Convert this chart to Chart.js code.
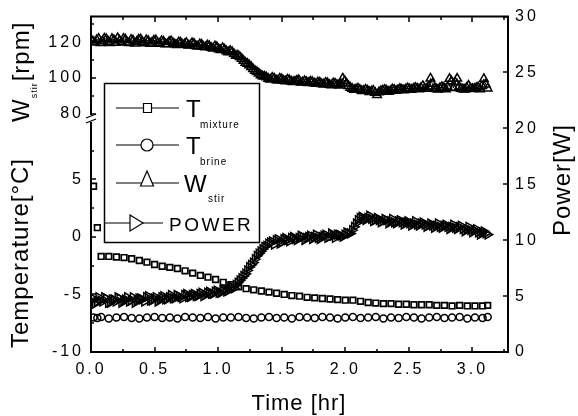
<!DOCTYPE html>
<html><head><meta charset="utf-8">
<script src="https://cdn.jsdelivr.net/npm/chart.js@4.4.0/dist/chart.umd.min.js"></script>
<style>html,body{margin:0;padding:0;background:#fff;}#wrap{width:578px;height:416px;}</style>
</head><body><div id="wrap"><canvas id="c" width="578" height="416"></canvas></div>
<script>
// ---- tick labels ----
const timeTicks = [0.0, 0.5, 1.0, 1.5, 2.0, 2.5, 3.0];
const timeMinor = [0.25, 0.75, 1.25, 1.75, 2.25, 2.75, 3.25];
const tempTicks = [-10, -5, 0, 5];
const tempMinor = [-7.5, -2.5, 2.5, 7.5];
const rpmTicks = [80, 100, 120];
const rpmMinor = [90, 110, 130];
const powerTicks = [0, 5, 10, 15, 20, 25, 30];

// ---- temperature series (hr, degC) ----
const tTemp = [0.02,0.05,0.08,0.14,0.20,0.26,0.32,0.38,0.44,0.50,
  0.56,0.62,0.68,0.74,0.80,0.86,0.92,0.98,1.04,1.10,
  1.16,1.22,1.28,1.34,1.40,1.46,1.52,1.58,1.64,1.70,
  1.76,1.82,1.88,1.94,2.00,2.06,2.12,2.18,2.24,2.30,
  2.36,2.42,2.48,2.54,2.60,2.66,2.72,2.78,2.84,2.90,
  2.96,3.02,3.08,3.12];
const tMixture = [4.4,0.8,-1.7,-1.7,-1.75,-1.8,-1.9,-2.05,-2.2,-2.4,
  -2.55,-2.65,-2.75,-2.95,-3.15,-3.35,-3.5,-3.7,-3.95,-4.15,
  -4.35,-4.5,-4.6,-4.7,-4.8,-4.9,-5.0,-5.1,-5.15,-5.25,
  -5.3,-5.35,-5.4,-5.45,-5.5,-5.5,-5.6,-5.7,-5.75,-5.8,
  -5.8,-5.85,-5.85,-5.9,-5.9,-5.9,-5.95,-5.95,-6.0,-5.95,
  -6.0,-6.0,-6.0,-5.95];
const tBrine = [-7.0,-7.05,-6.95,-7.1,-7.0,-6.95,-7.05,-7.1,-7.0,-6.95,
  -7.05,-7.0,-7.1,-6.95,-7.0,-7.05,-6.95,-7.1,-7.0,-7.0,
  -6.95,-7.05,-7.1,-7.0,-6.95,-7.05,-7.0,-7.1,-6.95,-7.0,
  -7.05,-6.95,-7.0,-7.1,-7.0,-6.95,-7.05,-7.0,-6.95,-7.1,
  -7.0,-7.05,-6.95,-7.0,-7.1,-7.0,-6.95,-7.05,-7.0,-6.95,
  -7.1,-7.0,-7.05,-6.95];

// ---- stirrer speed (rpm) and power (W), sampled on two interleaved time grids ----
const tFastA = [0.00,0.03,0.06,0.09,0.12,0.15,0.18,0.21,0.24,0.27,
  0.30,0.33,0.36,0.39,0.42,0.45,0.48,0.51,0.54,0.57,
  0.60,0.63,0.66,0.69,0.72,0.75,0.78,0.81,0.84,0.87,
  0.90,0.93,0.96,0.99,1.02,1.05,1.08,1.11,1.14,1.17,
  1.20,1.23,1.26,1.29,1.32,1.35,1.38,1.41,1.44,1.47,
  1.50,1.53,1.56,1.59,1.62,1.65,1.68,1.71,1.74,1.77,
  1.80,1.83,1.86,1.89,1.92,1.95,1.98,2.01,2.04,2.07,
  2.10,2.13,2.16,2.19,2.22,2.25,2.28,2.31,2.34,2.37,
  2.40,2.43,2.46,2.49,2.52,2.55,2.58,2.61,2.64,2.67,
  2.70,2.73,2.76,2.79,2.82,2.85,2.88,2.91,2.94,2.97,
  3.00,3.03,3.06,3.09,3.12];
const wStirA = [121.5,119.8,122.0,120.5,121.8,119.5,121.2,122.3,120.0,121.6,
  119.6,121.0,120.2,121.7,119.4,120.8,119.9,121.1,119.2,120.4,
  119.0,120.6,118.8,120.0,118.6,119.7,118.3,119.2,117.6,118.7,
  117.2,118.0,116.5,117.3,115.6,116.0,114.4,114.6,112.5,111.8,
  109.6,108.0,106.2,104.0,102.6,101.0,100.4,99.2,99.8,98.6,
  99.4,98.2,98.9,97.8,98.6,97.5,98.3,97.2,97.9,96.8,
  97.5,96.4,97.2,96.0,96.9,95.8,99.8,97.0,94.6,93.4,
  94.2,92.8,93.6,92.2,93.0,90.6,92.8,93.5,92.4,93.8,
  92.9,94.0,93.2,94.3,93.4,94.6,93.8,95.6,94.0,99.8,
  94.2,93.6,95.0,93.8,99.6,94.4,99.7,94.0,93.6,95.8,
  93.9,94.5,93.7,99.5,94.2];
const powerA = [4.6,4.3,4.9,4.5,4.8,4.4,4.7,4.9,4.4,4.7,
  4.5,4.9,4.6,4.8,4.5,5.0,4.6,4.9,4.7,5.0,
  4.7,5.1,4.8,5.0,4.8,5.2,4.9,5.2,5.0,5.3,
  5.1,5.4,5.2,5.5,5.3,5.6,5.5,5.8,6.0,6.4,
  6.8,7.3,7.8,8.3,8.8,9.2,9.5,9.8,9.6,10.1,
  9.8,10.2,9.9,10.3,10.0,10.4,10.0,10.3,10.1,10.5,
  10.1,10.4,10.2,10.6,10.2,10.5,10.3,10.7,10.6,11.2,
  11.8,12.1,11.8,12.2,11.7,12.0,11.6,11.9,11.5,11.9,
  11.5,11.8,11.4,11.7,11.3,11.7,11.3,11.6,11.2,11.5,
  11.1,11.5,11.1,11.4,11.0,11.4,11.0,11.3,10.8,11.2,
  10.7,11.0,10.5,10.8,10.5];
const tFastB = [0.015,0.045,0.075,0.105,0.135,0.165,0.195,0.225,0.255,0.285,
  0.315,0.345,0.375,0.405,0.435,0.465,0.495,0.525,0.555,0.585,
  0.615,0.645,0.675,0.705,0.735,0.765,0.795,0.825,0.855,0.885,
  0.915,0.945,0.975,1.005,1.035,1.065,1.095,1.125,1.155,1.185,
  1.215,1.245,1.275,1.305,1.335,1.365,1.395,1.425,1.455,1.485,
  1.515,1.545,1.575,1.605,1.635,1.665,1.695,1.725,1.755,1.785,
  1.815,1.845,1.875,1.905,1.935,1.965,1.995,2.025,2.055,2.085,
  2.115,2.145,2.175,2.205,2.235,2.265,2.295,2.325,2.355,2.385,
  2.415,2.445,2.475,2.505,2.535,2.565,2.595,2.625,2.655,2.685,
  2.715,2.745,2.775,2.805,2.835,2.865,2.895,2.925,2.955,2.985,
  3.015,3.045,3.075,3.105];
const wStirB = [120.4,121.3,119.6,122.1,120.3,121.9,119.7,120.9,122.0,119.9,
  121.4,119.3,121.5,120.1,121.2,119.2,120.9,119.6,120.7,118.9,
  120.2,119.5,118.4,119.8,118.9,118.2,119.5,117.9,118.9,117.4,
  118.3,116.9,117.8,116.1,116.8,115.0,115.2,113.4,112.6,110.8,
  108.6,107.2,105.0,103.4,101.6,100.9,99.6,100.2,98.9,99.7,
  98.5,99.2,98.1,98.0,98.9,97.6,97.8,98.1,97.1,97.6,
  96.7,97.4,96.3,97.1,96.2,96.8,98.4,95.6,94.0,93.8,
  93.4,92.9,93.1,92.5,91.8,92.1,93.1,93.0,92.7,93.4,
  93.3,93.6,93.7,93.9,94.0,94.2,94.5,94.1,95.2,96.8,
  93.9,94.4,94.6,95.0,98.2,97.6,95.2,93.8,94.6,94.2,
  94.0,94.8,95.6,96.4];
const powerB = [4.8,4.5,4.6,4.9,4.4,4.7,4.5,4.8,4.6,4.9,
  4.6,4.4,4.8,4.7,4.9,4.6,4.8,4.5,4.9,4.7,
  4.9,4.8,5.1,4.9,5.1,4.9,5.1,5.0,5.2,5.0,
  5.3,5.2,5.4,5.3,5.5,5.4,5.7,5.7,6.2,6.6,
  7.0,7.6,8.0,8.6,9.0,9.4,9.7,9.9,10.0,9.7,
  10.1,10.0,10.2,10.1,10.2,10.3,10.2,10.4,10.3,10.2,
  10.3,10.5,10.3,10.4,10.5,10.4,10.5,10.6,10.9,11.5,
  12.0,11.9,12.0,11.9,11.8,11.8,11.7,11.8,11.7,11.6,
  11.7,11.6,11.6,11.5,11.5,11.4,11.5,11.4,11.3,11.3,
  11.3,11.2,11.3,11.2,11.2,11.1,11.2,11.0,11.0,10.9,
  10.9,10.7,10.7,10.6];

function pts(xs, ys){ const n=Math.min(xs.length, ys.length); const o=[]; for(let i=0;i<n;i++) o.push({x:xs[i], y:ys[i]}); return o; }
function merged(xa, ya, xb, yb){ return pts(xa, ya).concat(pts(xb, yb)).sort((p, q) => p.x - q.x); }

const FONT = "'Liberation Sans', Arial, Helvetica, sans-serif";
Chart.defaults.font.family = FONT;
Chart.defaults.color = '#000';

function setTicks(arr){ return s => { s.ticks = arr.map(v => ({value: v})); }; }

function txt(c, s, x, y, size, sp, align, rot){
  c.save();
  c.font = size + 'px ' + FONT;
  c.letterSpacing = sp + 'px';
  c.textAlign = align; c.textBaseline = 'alphabetic';
  c.fillStyle = '#000';
  c.translate(x, y);
  if (rot) c.rotate(rot);
  c.fillText(s, 0, 0);
  c.restore();
}
function wid(c, s, size, sp){
  c.save(); c.font = size + 'px ' + FONT; c.letterSpacing = sp + 'px';
  const w = c.measureText(s).width; c.restore(); return w;
}

const decor = {
  id: 'decor',
  beforeLayout(chart){ chart.ctx.letterSpacing = '3px'; },
  beforeDraw(chart){
    const c = chart.ctx;
    c.letterSpacing = '3px';
    c.save(); c.fillStyle = '#fff'; c.fillRect(0, 0, chart.width, chart.height); c.restore();
  },
  afterDatasetsDraw(chart){
    const c = chart.ctx;
    const a = chart.chartArea;
    const sx = chart.scales.x, sT = chart.scales.yT, sR = chart.scales.yR, sP = chart.scales.yP;
    c.save();
    c.strokeStyle = '#000'; c.lineWidth = 2; c.lineCap = 'butt';
    // frame
    c.beginPath();
    c.moveTo(a.left, a.top); c.lineTo(a.right, a.top); c.lineTo(a.right, a.bottom); c.lineTo(a.left, a.bottom); c.closePath();
    c.stroke();
    // ticks
    const L = Math.round(a.left), R = Math.round(a.right), T = Math.round(a.top), B = Math.round(a.bottom);
    function seg(x1,y1,x2,y2){ c.beginPath(); c.moveTo(x1,y1); c.lineTo(x2,y2); c.stroke(); }
    c.lineWidth = 1.5;
    timeTicks.forEach(v => { const p = Math.round(sx.getPixelForValue(v)); seg(p, B, p, B-5); seg(p, T, p, T+5); });
    timeMinor.forEach(v => { const p = Math.round(sx.getPixelForValue(v)); seg(p, B, p, B-3); seg(p, T, p, T+3); });
    tempTicks.forEach(v => { const p = Math.round(sT.getPixelForValue(v)); seg(L, p, L+5, p); });
    tempMinor.forEach(v => { const p = Math.round(sT.getPixelForValue(v)); seg(L, p, L+3, p); });
    rpmTicks.forEach(v => { const p = Math.round(sR.getPixelForValue(v)); seg(L, p, L+5, p); });
    rpmMinor.forEach(v => { const p = Math.round(sR.getPixelForValue(v)); seg(L, p, L+3, p); });
    powerTicks.forEach(v => { const p = Math.round(sP.getPixelForValue(v)); seg(R, p, R-5, p); });
    // axis break on the left axis
    const yb = Math.round(sT.top);
    c.fillStyle = '#fff'; c.fillRect(L-6, yb-4, 12, 7);
    c.lineWidth = 1.3;
    seg(L-5, yb-1, L+5, yb-5);
    seg(L-5, yb+4, L+5, yb);
    // legend
    c.lineWidth = 1.5;
    c.strokeRect(104.5, 83.5, 155, 159);
    c.lineWidth = 1.2;
    seg(116, 108, 179, 108); seg(116, 145, 179, 145); seg(116, 183, 179, 183); seg(104, 223, 163, 223);
    c.fillStyle = '#fff';
    c.beginPath(); c.rect(143.5, 103.5, 8, 9); c.fill(); c.stroke();
    c.beginPath(); c.arc(147, 145, 6, 0, Math.PI*2); c.fill(); c.stroke();
    c.beginPath(); c.moveTo(147, 171); c.lineTo(153.5, 186); c.lineTo(140.5, 186); c.closePath(); c.fill(); c.stroke();
    c.beginPath(); c.moveTo(130, 215); c.lineTo(143, 223); c.lineTo(130, 231); c.closePath(); c.fill(); c.stroke();
    c.restore();
    // legend texts
    txt(c, 'T', 186, 117, 24, 0, 'left');
    txt(c, 'mixture', 200, 128, 10, 1, 'left');
    txt(c, 'T', 186, 154, 24, 0, 'left');
    txt(c, 'brine', 200, 165, 10, 1, 'left');
    txt(c, 'W', 184, 192, 24, 0, 'left');
    txt(c, 'stir', 208, 202, 10, 1, 'left');
    txt(c, 'POWER', 169, 231, 19, 2.5, 'left');
    // axis titles
    txt(c, 'Time [hr]', 299, 410, 22, 1, 'center');
    txt(c, 'Temperature[°C]', 28, 253, 24, 1, 'center', -Math.PI/2);
    txt(c, 'Power[W]', 570, 180, 24, 1, 'center', -Math.PI/2);
    // W_stir[rpm]
    const wW = wid(c, 'W', 24, 0);
    const wS = wid(c, 'stir', 9, 1);
    txt(c, 'W', 29, 122, 24, 0, 'left', -Math.PI/2);
    txt(c, 'stir', 37, 122 - wW - 1, 9, 1, 'left', -Math.PI/2);
    txt(c, '[rpm]', 29, 122 - wW - wS - 2, 24, 1, 'left', -Math.PI/2);
  }
};

const common = { borderColor: '#000', borderWidth: 1, pointBorderColor: '#000', pointBackgroundColor: 'rgba(255,255,255,0)', pointBorderWidth: 1.5, fill: false, tension: 0 };

new Chart(document.getElementById('c'), {
  type: 'scatter',
  data: {
    datasets: [
      Object.assign({ label: 'T mixture', data: pts(tTemp, tMixture), yAxisID: 'yT', pointStyle: 'rect', pointRadius: 4, showLine: false }, common, { pointBorderWidth: 1.7 }),
      Object.assign({ label: 'T brine', data: pts(tTemp, tBrine), yAxisID: 'yT', pointStyle: 'circle', pointRadius: 3.5, showLine: false }, common),
      Object.assign({ label: 'W stir', data: merged(tFastA, wStirA, tFastB, wStirB), yAxisID: 'yR', pointStyle: 'triangle', pointRadius: 5, showLine: true }, common),
      Object.assign({ label: 'POWER', data: merged(tFastA, powerA, tFastB, powerB), yAxisID: 'yP', pointStyle: 'triangle', pointRotation: 90, pointRadius: 5, showLine: true }, common)
    ]
  },
  options: {
    responsive: false,
    animation: false,
    devicePixelRatio: 1,
    layout: { padding: { top: 16, left: 0, right: 0, bottom: 0 } },
    plugins: { legend: { display: false }, tooltip: { enabled: false } },
    scales: {
      x: {
        type: 'linear', position: 'bottom', min: 0, max: 3.28,
        afterBuildTicks: setTicks(timeTicks),
        ticks: { callback: v => Number(v).toFixed(1), padding: 8, font: { size: 16 }, color: '#000', maxRotation: 0, autoSkip: false },
        grid: { display: false, drawTicks: false }, border: { display: false },
        afterFit: s => { s.height = 64; }
      },
      yT: {
        type: 'linear', position: 'left', stack: 'left', stackWeight: 233, min: -10, max: 10.2,
        afterBuildTicks: setTicks(tempTicks),
        ticks: { padding: 7, font: { size: 16 }, color: '#000', autoSkip: false },
        grid: { display: false, drawTicks: false }, border: { display: false },
        afterFit: s => { s.width = 91; }
      },
      yR: {
        type: 'linear', position: 'left', stack: 'left', stackWeight: 103, min: 76.9, max: 134.3,
        afterBuildTicks: setTicks(rpmTicks),
        ticks: { padding: 7, font: { size: 16 }, color: '#000', autoSkip: false },
        grid: { display: false, drawTicks: false }, border: { display: false },
        afterFit: s => { s.width = 91; }
      },
      yP: {
        type: 'linear', position: 'right', min: 0, max: 30,
        afterBuildTicks: setTicks(powerTicks),
        ticks: { padding: 7, font: { size: 16 }, color: '#000', autoSkip: false },
        grid: { display: false, drawTicks: false }, border: { display: false },
        afterFit: s => { s.width = 70; }
      }
    }
  },
  plugins: [decor]
});
</script></body></html>
